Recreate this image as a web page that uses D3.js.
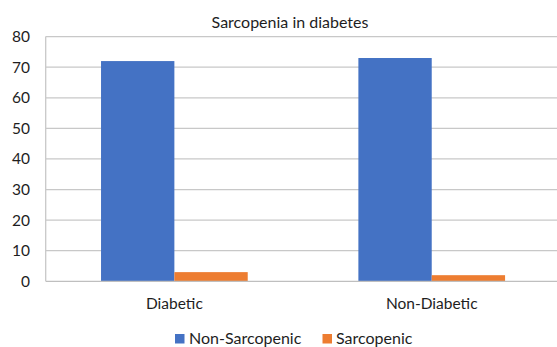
<!DOCTYPE html>
<html>
<head>
<meta charset="utf-8">
<script src="https://cdn.jsdelivr.net/npm/d3@7"></script>
<style>
  html, body { margin: 0; padding: 0; background: #fff; }
  svg { display: block; }
  text { font-family: Lato, "Open Sans", sans-serif; fill: #1e1e1e; }
</style>
</head>
<body>
<svg id="chart" width="557" height="347"></svg>
<script>
// Data
const categories = ["Diabetic", "Non-Diabetic"];
const seriesNames = ["Non-Sarcopenic", "Sarcopenic"];
const nonSarcopenic = [72, 73];
const sarcopenic = [3, 2];
const yTicks = [0, 10, 20, 30, 40, 50, 60, 70, 80];
const title = "Sarcopenia in diabetes";

const colors = ["#4472C4", "#ED7D31"];
const seriesValues = [nonSarcopenic, sarcopenic];

const svg = d3.select("#chart");
const plot = { left: 45.7, right: 560.4, top: 36.6, bottom: 281.3 };

const x0 = d3.scaleBand()
  .domain(categories)
  .range([plot.left, plot.right])
  .paddingInner(0.43)
  .paddingOuter(0.215);

const x1 = d3.scaleBand()
  .domain(seriesNames)
  .range([0, x0.bandwidth()])
  .padding(0);

const y = d3.scaleLinear().domain([0, 80]).range([plot.bottom, plot.top]);

// Gridlines
svg.append("g")
  .selectAll("line")
  .data(yTicks.filter(d => d > 0))
  .join("line")
  .attr("x1", plot.left)
  .attr("x2", plot.right)
  .attr("y1", d => y(d))
  .attr("y2", d => y(d))
  .attr("stroke", "#C8C8C8")
  .attr("stroke-width", 1.3);

// Left axis line
svg.append("line")
  .attr("x1", plot.left).attr("x2", plot.left)
  .attr("y1", plot.top).attr("y2", plot.bottom)
  .attr("stroke", "#C8C8C8").attr("stroke-width", 1.3);

// Y axis labels
const yAxis = d3.axisLeft(y).tickValues(yTicks).tickSize(0).tickPadding(0);
const gy = svg.append("g").attr("transform", "translate(30,0)").call(yAxis);
gy.select(".domain").remove();
gy.selectAll("text")
  .attr("font-size", 15.5)
  .attr("font-family", "Lato, sans-serif")
  .attr("fill", "#1e1e1e");

// Bars
const groups = svg.append("g")
  .selectAll("g")
  .data(categories)
  .join("g")
  .attr("transform", d => `translate(${x0(d)},0)`);

groups.selectAll("rect")
  .data((c, i) => seriesNames.map((s, j) => ({ s, j, v: seriesValues[j][i] })))
  .join("rect")
  .attr("x", d => x1(d.s))
  .attr("width", x1.bandwidth())
  .attr("y", d => y(d.v))
  .attr("height", d => y(0) - y(d.v))
  .attr("fill", d => colors[d.j]);

// Baseline
svg.append("line")
  .attr("x1", plot.left).attr("x2", plot.right)
  .attr("y1", y(0)).attr("y2", y(0))
  .attr("stroke", "#BFBFBF").attr("stroke-width", 1.3);

// Category labels
const xAxis = d3.axisBottom(x0).tickSize(0).tickPadding(0);
const gx = svg.append("g").attr("transform", "translate(0,298)").call(xAxis);
gx.select(".domain").remove();
gx.selectAll("text")
  .attr("font-size", 15.5)
  .attr("font-family", "Lato, sans-serif")
  .attr("fill", "#1e1e1e");

// Title
svg.append("text")
  .attr("x", 290)
  .attr("y", 28)
  .attr("text-anchor", "middle")
  .attr("font-size", 16)
  .text(title);

// Legend
const legendItems = [
  { name: seriesNames[0], color: colors[0], sx: 175, tx: 189 },
  { name: seriesNames[1], color: colors[1], sx: 322.5, tx: 336 }
];
const lg = svg.append("g");
lg.selectAll("rect")
  .data(legendItems)
  .join("rect")
  .attr("x", d => d.sx)
  .attr("y", 334)
  .attr("width", 9.5)
  .attr("height", 9.5)
  .attr("fill", d => d.color);
lg.selectAll("text")
  .data(legendItems)
  .join("text")
  .attr("x", d => d.tx)
  .attr("y", 343.5)
  .attr("font-size", 16)
  .text(d => d.name);
</script>
</body>
</html>
